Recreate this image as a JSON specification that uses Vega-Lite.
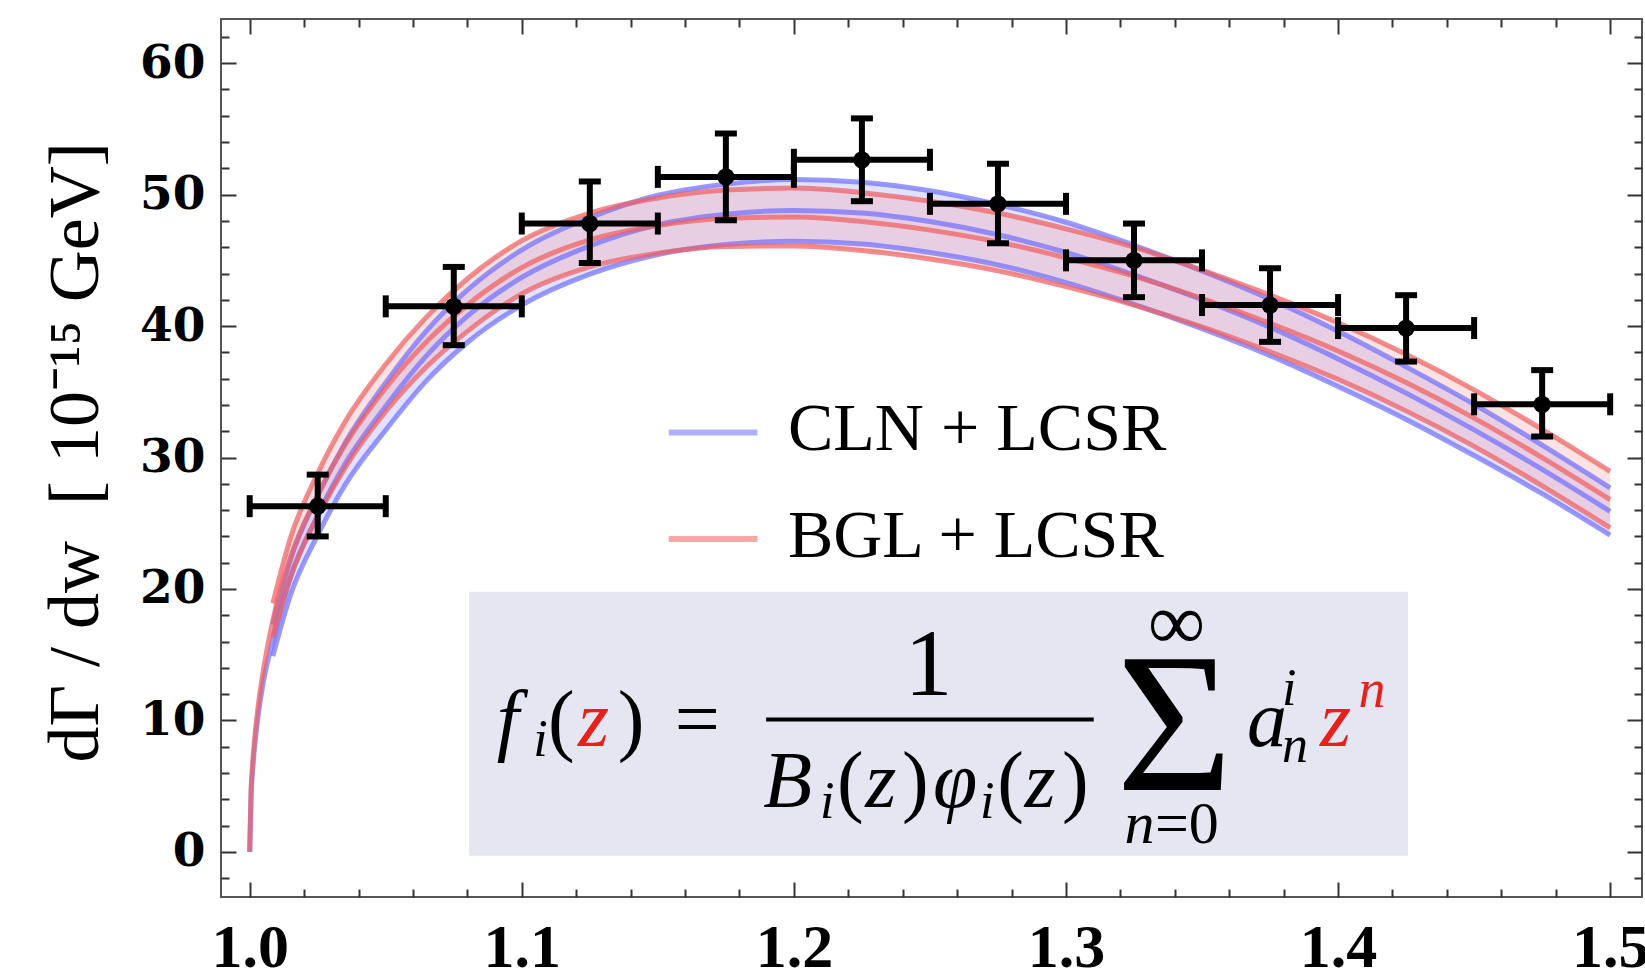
{
  "$schema": "https://vega.github.io/schema/vega-lite/v6.json",
  "width": 1421,
  "height": 878,
  "autosize": {"type": "none"},
  "padding": {"left": 221, "top": 19, "right": 3, "bottom": 81},
  "background": "white",
  "view": {"stroke": "#555555", "strokeWidth": 2},
  "config": {"axis": {"grid": false, "domain": false}},
  "resolve": {"axis": {"x": "independent", "y": "independent"}},
  "datasets": {
    "box": [{"w1": 1.0806, "w2": 1.4257, "v1": -0.3, "v2": 19.8}],
    "curves": [
      {"model": "CLN", "w": 1.0, "mid": 0},
      {"model": "CLN", "w": 1.0005, "mid": 4.3},
      {"model": "CLN", "w": 1.001, "mid": 6.0},
      {"model": "CLN", "w": 1.002, "mid": 8.4},
      {"model": "CLN", "w": 1.003, "mid": 10.2},
      {"model": "CLN", "w": 1.005, "mid": 12.9},
      {"model": "CLN", "w": 1.0085, "lo": 14.9, "mid": 16.1, "hi": 17.3},
      {"model": "CLN", "w": 1.015, "lo": 19.55, "mid": 20.9, "hi": 22.25},
      {"model": "CLN", "w": 1.025, "lo": 24.1, "mid": 25.6, "hi": 27.1},
      {"model": "CLN", "w": 1.035, "lo": 27.9, "mid": 29.5, "hi": 31.1},
      {"model": "CLN", "w": 1.05, "lo": 32.1, "mid": 33.9, "hi": 35.7},
      {"model": "CLN", "w": 1.065, "lo": 35.85, "mid": 37.75, "hi": 39.65},
      {"model": "CLN", "w": 1.08, "lo": 38.75, "mid": 40.75, "hi": 42.75},
      {"model": "CLN", "w": 1.1, "lo": 41.6, "mid": 43.7, "hi": 45.8},
      {"model": "CLN", "w": 1.125, "lo": 43.95, "mid": 46.1, "hi": 48.25},
      {"model": "CLN", "w": 1.15, "lo": 45.45, "mid": 47.7, "hi": 49.95},
      {"model": "CLN", "w": 1.175, "lo": 46.2, "mid": 48.5, "hi": 50.8},
      {"model": "CLN", "w": 1.2, "lo": 46.45, "mid": 48.8, "hi": 51.15},
      {"model": "CLN", "w": 1.225, "lo": 46.25, "mid": 48.6, "hi": 50.95},
      {"model": "CLN", "w": 1.25, "lo": 45.6, "mid": 47.95, "hi": 50.3},
      {"model": "CLN", "w": 1.275, "lo": 44.65, "mid": 46.95, "hi": 49.25},
      {"model": "CLN", "w": 1.3, "lo": 43.3, "mid": 45.6, "hi": 47.9},
      {"model": "CLN", "w": 1.325, "lo": 41.65, "mid": 43.9, "hi": 46.15},
      {"model": "CLN", "w": 1.35, "lo": 39.8, "mid": 42.0, "hi": 44.2},
      {"model": "CLN", "w": 1.375, "lo": 37.75, "mid": 39.9, "hi": 42.05},
      {"model": "CLN", "w": 1.4, "lo": 35.4, "mid": 37.5, "hi": 39.6},
      {"model": "CLN", "w": 1.425, "lo": 32.9, "mid": 34.9, "hi": 36.9},
      {"model": "CLN", "w": 1.45, "lo": 30.15, "mid": 32.1, "hi": 34.05},
      {"model": "CLN", "w": 1.475, "lo": 27.25, "mid": 29.1, "hi": 30.95},
      {"model": "CLN", "w": 1.5, "lo": 24.1, "mid": 25.9, "hi": 27.7},
      {"model": "BGL", "w": 1.0, "mid": 0},
      {"model": "BGL", "w": 1.0005, "mid": 4.7},
      {"model": "BGL", "w": 1.001, "mid": 6.5},
      {"model": "BGL", "w": 1.002, "mid": 9.0},
      {"model": "BGL", "w": 1.003, "mid": 10.9},
      {"model": "BGL", "w": 1.005, "mid": 13.8},
      {"model": "BGL", "w": 1.0085, "lo": 16.3, "mid": 17.6, "hi": 18.9},
      {"model": "BGL", "w": 1.015, "lo": 20.9, "mid": 22.4, "hi": 23.9},
      {"model": "BGL", "w": 1.025, "lo": 25.5, "mid": 27.15, "hi": 28.8},
      {"model": "BGL", "w": 1.035, "lo": 29.2, "mid": 30.95, "hi": 32.7},
      {"model": "BGL", "w": 1.05, "lo": 33.5, "mid": 35.3, "hi": 37.1},
      {"model": "BGL", "w": 1.065, "lo": 36.9, "mid": 38.8, "hi": 40.7},
      {"model": "BGL", "w": 1.08, "lo": 39.6, "mid": 41.6, "hi": 43.6},
      {"model": "BGL", "w": 1.1, "lo": 42.45, "mid": 44.45, "hi": 46.5},
      {"model": "BGL", "w": 1.125, "lo": 44.5, "mid": 46.55, "hi": 48.6},
      {"model": "BGL", "w": 1.15, "lo": 45.55, "mid": 47.65, "hi": 49.75},
      {"model": "BGL", "w": 1.175, "lo": 46.05, "mid": 48.2, "hi": 50.35},
      {"model": "BGL", "w": 1.2, "lo": 46.1, "mid": 48.3, "hi": 50.5},
      {"model": "BGL", "w": 1.225, "lo": 45.75, "mid": 47.95, "hi": 50.15},
      {"model": "BGL", "w": 1.25, "lo": 45.1, "mid": 47.3, "hi": 49.5},
      {"model": "BGL", "w": 1.275, "lo": 44.2, "mid": 46.4, "hi": 48.6},
      {"model": "BGL", "w": 1.3, "lo": 43.0, "mid": 45.2, "hi": 47.4},
      {"model": "BGL", "w": 1.325, "lo": 41.6, "mid": 43.8, "hi": 46.0},
      {"model": "BGL", "w": 1.35, "lo": 39.95, "mid": 42.1, "hi": 44.25},
      {"model": "BGL", "w": 1.375, "lo": 38.05, "mid": 40.2, "hi": 42.35},
      {"model": "BGL", "w": 1.4, "lo": 35.95, "mid": 38.1, "hi": 40.25},
      {"model": "BGL", "w": 1.425, "lo": 33.55, "mid": 35.7, "hi": 37.85},
      {"model": "BGL", "w": 1.45, "lo": 30.85, "mid": 33.0, "hi": 35.15},
      {"model": "BGL", "w": 1.475, "lo": 27.85, "mid": 30.0, "hi": 32.15},
      {"model": "BGL", "w": 1.5, "lo": 24.65, "mid": 26.8, "hi": 28.95}
    ],
    "pts": [
      {"w": 1.025, "wlo": 1.0, "whi": 1.05, "v": 26.3, "vlo": 24.0, "vhi": 28.7},
      {"w": 1.075, "wlo": 1.05, "whi": 1.1, "v": 41.5, "vlo": 38.55, "vhi": 44.5},
      {"w": 1.125, "wlo": 1.1, "whi": 1.15, "v": 47.8, "vlo": 44.8, "vhi": 51.0},
      {"w": 1.175, "wlo": 1.15, "whi": 1.2, "v": 51.35, "vlo": 48.05, "vhi": 54.65},
      {"w": 1.225, "wlo": 1.2, "whi": 1.25, "v": 52.65, "vlo": 49.5, "vhi": 55.8},
      {"w": 1.275, "wlo": 1.25, "whi": 1.3, "v": 49.3, "vlo": 46.3, "vhi": 52.35},
      {"w": 1.325, "wlo": 1.3, "whi": 1.35, "v": 45.0, "vlo": 42.2, "vhi": 47.8},
      {"w": 1.375, "wlo": 1.35, "whi": 1.4, "v": 41.6, "vlo": 38.8, "vhi": 44.4},
      {"w": 1.425, "wlo": 1.4, "whi": 1.45, "v": 39.85, "vlo": 37.3, "vhi": 42.35},
      {"w": 1.475, "wlo": 1.45, "whi": 1.5, "v": 34.05, "vlo": 31.6, "vhi": 36.65}
    ],
    "legendLines": [
      {"model": "CLN", "w1": 1.154, "w2": 1.1866, "v": 31.9},
      {"model": "BGL", "w1": 1.154, "w2": 1.1866, "v": 23.8}
    ],
    "legendText": [
      {"t": "CLN + LCSR", "w": 1.1978, "v": 30.57},
      {"t": "BGL + LCSR", "w": 1.1978, "v": 22.46}
    ],
    "fracBar": [{"w1": 1.1898, "w2": 1.3102, "v": 10.08}],
    "formula": [
      {"part": "itMain", "t": "f", "w": 1.0908, "v": 8.06},
      {"part": "itMain", "t": "B", "w": 1.1887, "v": 3.44},
      {"part": "itMain", "t": "z", "w": 1.2262, "v": 3.44},
      {"part": "itMain", "t": "φ", "w": 1.2511, "v": 3.44},
      {"part": "itMain", "t": "z", "w": 1.2848, "v": 3.44},
      {"part": "itMain", "t": "a", "w": 1.3665, "v": 8.06},
      {"part": "itRed", "t": "z", "w": 1.1207, "v": 8.06},
      {"part": "itRed", "t": "z", "w": 1.3934, "v": 8.06},
      {"part": "itSub", "t": "i", "w": 1.1042, "v": 7.3},
      {"part": "itSub", "t": "i", "w": 1.2096, "v": 2.6},
      {"part": "itSub", "t": "i", "w": 1.2684, "v": 2.6},
      {"part": "itSub", "t": "i", "w": 1.3794, "v": 11.2},
      {"part": "itSub", "t": "n", "w": 1.3794, "v": 6.86},
      {"part": "itLim", "t": "n", "w": 1.3215, "v": 0.65},
      {"part": "itSubRed", "t": "n", "w": 1.4075, "v": 11.05},
      {"part": "upMain", "t": "(", "w": 1.1096, "v": 8.06},
      {"part": "upMain", "t": ")", "w": 1.1353, "v": 8.06},
      {"part": "upMain", "t": "=", "w": 1.1562, "v": 8.06},
      {"part": "upMain", "t": "(", "w": 1.2158, "v": 3.44},
      {"part": "upMain", "t": ")", "w": 1.2397, "v": 3.44},
      {"part": "upMain", "t": "(", "w": 1.2747, "v": 3.44},
      {"part": "upMain", "t": ")", "w": 1.2985, "v": 3.44},
      {"part": "num", "t": "1", "w": 1.2495, "v": 11.9},
      {"part": "sigma", "t": "Σ", "w": 1.3399, "v": 4.71},
      {"part": "inf", "t": "∞", "w": 1.3406, "v": 15.4},
      {"part": "limUp", "t": "=0", "w": 1.3327, "v": 0.65}
    ]
  },
  "layer": [
    {
      "data": {"name": "box"},
      "mark": {"type": "rect", "color": "#e6e6f2"},
      "encoding": {
        "x": {"field": "w1", "type": "quantitative", "scale": {"domain": [0.98945, 1.5117], "nice": false, "zero": false},
          "axis": {"orient": "bottom", "values": [1.0, 1.1, 1.2, 1.3, 1.4, 1.5], "format": ".1f", "title": null, "tickSize": -15, "tickWidth": 2, "tickColor": "#333333", "labels": true, "labelFont": "Liberation Serif", "labelFontWeight": "bold", "labelFontSize": 62, "labelColor": "#000000", "labelPadding": 84, "labelBaseline": "alphabetic", "labelFlush": false, "labelOverlap": false}},
        "x2": {"field": "w2"},
        "y": {"field": "v1", "type": "quantitative", "scale": {"domain": [-3.43, 63.36], "nice": false, "zero": false},
          "axis": {"orient": "left", "values": [0, 10, 20, 30, 40, 50, 60], "format": "d", "tickSize": -15, "tickWidth": 2, "tickColor": "#333333", "labelFont": "DejaVu Serif", "labelFontWeight": "bold", "labelFontSize": 47, "labelColor": "#000000", "labelPadding": 31, "labelFlush": false, "labelOverlap": false,
            "title": "dΓ / dw\u00a0\u00a0[ 10⁻¹⁵ GeV]", "titleFont": "Liberation Serif", "titleFontSize": 72, "titleFontWeight": "normal", "titleColor": "#000000", "titleAngle": -90, "titleX": -124, "titleY": 433, "titleBaseline": "alphabetic", "titleAlign": "center"}},
        "y2": {"field": "v2"}
      }
    },
    {
      "data": {"name": "curves"},
      "transform": [{"filter": "datum.model == 'CLN' && isValid(datum.lo)"}],
      "mark": {"type": "area", "color": "#a0a0ff", "opacity": 0.3, "interpolate": "monotone"},
      "encoding": {
        "x": {"field": "w", "type": "quantitative", "scale": {"domain": [0.98945, 1.5117], "nice": false, "zero": false},
          "axis": {"orient": "bottom", "values": [1.02, 1.04, 1.06, 1.08, 1.12, 1.14, 1.16, 1.18, 1.22, 1.24, 1.26, 1.28, 1.32, 1.34, 1.36, 1.38, 1.42, 1.44, 1.46, 1.48], "labels": false, "title": null, "tickSize": -8, "tickWidth": 2, "tickColor": "#333333"}},
        "y": {"field": "lo", "type": "quantitative", "scale": {"domain": [-3.43, 63.36], "nice": false, "zero": false},
          "axis": {"orient": "left", "values": [-2, 2, 4, 6, 8, 12, 14, 16, 18, 22, 24, 26, 28, 32, 34, 36, 38, 42, 44, 46, 48, 52, 54, 56, 58, 62], "labels": false, "title": null, "tickSize": -8, "tickWidth": 2, "tickColor": "#333333"}},
        "y2": {"field": "hi"}
      }
    },
    {
      "data": {"name": "curves"},
      "transform": [{"filter": "datum.model == 'BGL' && isValid(datum.lo)"}],
      "mark": {"type": "area", "color": "#f4a0a0", "opacity": 0.3, "interpolate": "monotone"},
      "encoding": {
        "x": {"field": "w", "type": "quantitative", "scale": {"domain": [0.98945, 1.5117], "nice": false, "zero": false},
          "axis": {"orient": "top", "values": [1.0, 1.1, 1.2, 1.3, 1.4, 1.5], "labels": false, "title": null, "tickSize": -15, "tickWidth": 2, "tickColor": "#333333"}},
        "y": {"field": "lo", "type": "quantitative", "scale": {"domain": [-3.43, 63.36], "nice": false, "zero": false},
          "axis": {"orient": "right", "values": [0, 10, 20, 30, 40, 50, 60], "labels": false, "title": null, "tickSize": -15, "tickWidth": 2, "tickColor": "#333333"}},
        "y2": {"field": "hi"}
      }
    },
    {
      "data": {"name": "curves"},
      "transform": [
        {"fold": ["lo", "mid", "hi"], "as": ["edge", "val"]},
        {"filter": "isValid(datum.val)"}
      ],
      "mark": {"type": "line", "strokeWidth": 5, "opacity": 0.72, "interpolate": "monotone"},
      "encoding": {
        "x": {"field": "w", "type": "quantitative", "scale": {"domain": [0.98945, 1.5117], "nice": false, "zero": false},
          "axis": {"orient": "top", "values": [1.02, 1.04, 1.06, 1.08, 1.12, 1.14, 1.16, 1.18, 1.22, 1.24, 1.26, 1.28, 1.32, 1.34, 1.36, 1.38, 1.42, 1.44, 1.46, 1.48], "labels": false, "title": null, "tickSize": -8, "tickWidth": 2, "tickColor": "#333333"}},
        "y": {"field": "val", "type": "quantitative", "scale": {"domain": [-3.43, 63.36], "nice": false, "zero": false},
          "axis": {"orient": "right", "values": [-2, 2, 4, 6, 8, 12, 14, 16, 18, 22, 24, 26, 28, 32, 34, 36, 38, 42, 44, 46, 48, 52, 54, 56, 58, 62], "labels": false, "title": null, "tickSize": -8, "tickWidth": 2, "tickColor": "#333333"}},
        "color": {"field": "model", "type": "nominal", "scale": {"domain": ["CLN", "BGL"], "range": ["#7070ff", "#ee6060"]}, "legend": null},
        "detail": {"field": "edge"}
      }
    },
    {
      "data": {"name": "pts"},
      "mark": {"type": "rule", "color": "black", "strokeWidth": 6},
      "encoding": {
        "x": {"field": "wlo", "type": "quantitative", "axis": null},
        "x2": {"field": "whi"},
        "y": {"field": "v", "type": "quantitative", "axis": null}
      }
    },
    {
      "data": {"name": "pts"},
      "mark": {"type": "rule", "color": "black", "strokeWidth": 6},
      "encoding": {
        "x": {"field": "w", "type": "quantitative", "axis": null},
        "y": {"field": "vlo", "type": "quantitative", "axis": null},
        "y2": {"field": "vhi"}
      }
    },
    {
      "data": {"name": "pts"},
      "transform": [{"fold": ["wlo", "whi"], "as": ["end", "we"]}],
      "mark": {"type": "tick", "orient": "vertical", "color": "black", "opacity": 1, "size": 22, "thickness": 6},
      "encoding": {
        "x": {"field": "we", "type": "quantitative", "axis": null},
        "y": {"field": "v", "type": "quantitative", "axis": null}
      }
    },
    {
      "data": {"name": "pts"},
      "transform": [{"fold": ["vlo", "vhi"], "as": ["end", "ve"]}],
      "mark": {"type": "tick", "orient": "horizontal", "color": "black", "opacity": 1, "size": 22, "thickness": 6},
      "encoding": {
        "x": {"field": "w", "type": "quantitative", "axis": null},
        "y": {"field": "ve", "type": "quantitative", "axis": null}
      }
    },
    {
      "data": {"name": "pts"},
      "mark": {"type": "circle", "color": "black", "opacity": 1, "size": 300},
      "encoding": {
        "x": {"field": "w", "type": "quantitative", "axis": null},
        "y": {"field": "v", "type": "quantitative", "axis": null}
      }
    },
    {
      "data": {"name": "legendLines"},
      "mark": {"type": "rule", "strokeWidth": 6, "opacity": 0.55},
      "encoding": {
        "x": {"field": "w1", "type": "quantitative", "axis": null},
        "x2": {"field": "w2"},
        "y": {"field": "v", "type": "quantitative", "axis": null},
        "color": {"field": "model", "type": "nominal", "legend": null}
      }
    },
    {
      "data": {"name": "legendText"},
      "mark": {"type": "text", "font": "Liberation Serif", "fontSize": 68, "align": "left", "baseline": "alphabetic", "color": "black"},
      "encoding": {
        "x": {"field": "w", "type": "quantitative", "axis": null},
        "y": {"field": "v", "type": "quantitative", "axis": null},
        "text": {"field": "t"}
      }
    },
    {
      "data": {"name": "fracBar"},
      "mark": {"type": "rule", "color": "black", "strokeWidth": 4},
      "encoding": {
        "x": {"field": "w1", "type": "quantitative", "axis": null},
        "x2": {"field": "w2"},
        "y": {"field": "v", "type": "quantitative", "axis": null}
      }
    },
    {
      "data": {"name": "formula"},
      "transform": [{"filter": "datum.part == 'itMain'"}],
      "mark": {"type": "text", "font": "Liberation Serif", "fontStyle": "italic", "fontSize": 80, "align": "left", "baseline": "alphabetic", "color": "black"},
      "encoding": {"x": {"field": "w", "type": "quantitative", "axis": null}, "y": {"field": "v", "type": "quantitative", "axis": null}, "text": {"field": "t"}}
    },
    {
      "data": {"name": "formula"},
      "transform": [{"filter": "datum.part == 'itRed'"}],
      "mark": {"type": "text", "font": "Liberation Serif", "fontStyle": "italic", "fontSize": 80, "align": "left", "baseline": "alphabetic", "color": "#e8201c"},
      "encoding": {"x": {"field": "w", "type": "quantitative", "axis": null}, "y": {"field": "v", "type": "quantitative", "axis": null}, "text": {"field": "t"}}
    },
    {
      "data": {"name": "formula"},
      "transform": [{"filter": "datum.part == 'itSub'"}],
      "mark": {"type": "text", "font": "Liberation Serif", "fontStyle": "italic", "fontSize": 52, "align": "left", "baseline": "alphabetic", "color": "black"},
      "encoding": {"x": {"field": "w", "type": "quantitative", "axis": null}, "y": {"field": "v", "type": "quantitative", "axis": null}, "text": {"field": "t"}}
    },
    {
      "data": {"name": "formula"},
      "transform": [{"filter": "datum.part == 'itLim'"}],
      "mark": {"type": "text", "font": "Liberation Serif", "fontStyle": "italic", "fontSize": 60, "align": "left", "baseline": "alphabetic", "color": "black"},
      "encoding": {"x": {"field": "w", "type": "quantitative", "axis": null}, "y": {"field": "v", "type": "quantitative", "axis": null}, "text": {"field": "t"}}
    },
    {
      "data": {"name": "formula"},
      "transform": [{"filter": "datum.part == 'itSubRed'"}],
      "mark": {"type": "text", "font": "Liberation Serif", "fontStyle": "italic", "fontSize": 54, "align": "left", "baseline": "alphabetic", "color": "#e8201c"},
      "encoding": {"x": {"field": "w", "type": "quantitative", "axis": null}, "y": {"field": "v", "type": "quantitative", "axis": null}, "text": {"field": "t"}}
    },
    {
      "data": {"name": "formula"},
      "transform": [{"filter": "datum.part == 'upMain'"}],
      "mark": {"type": "text", "font": "Liberation Serif", "fontSize": 80, "align": "left", "baseline": "alphabetic", "color": "black"},
      "encoding": {"x": {"field": "w", "type": "quantitative", "axis": null}, "y": {"field": "v", "type": "quantitative", "axis": null}, "text": {"field": "t"}}
    },
    {
      "data": {"name": "formula"},
      "transform": [{"filter": "datum.part == 'num'"}],
      "mark": {"type": "text", "font": "Liberation Serif", "fontSize": 96, "align": "center", "baseline": "alphabetic", "color": "black"},
      "encoding": {"x": {"field": "w", "type": "quantitative", "axis": null}, "y": {"field": "v", "type": "quantitative", "axis": null}, "text": {"field": "t"}}
    },
    {
      "data": {"name": "formula"},
      "transform": [{"filter": "datum.part == 'sigma'"}],
      "mark": {"type": "text", "font": "Liberation Serif", "fontSize": 200, "align": "center", "baseline": "alphabetic", "color": "black"},
      "encoding": {"x": {"field": "w", "type": "quantitative", "axis": null}, "y": {"field": "v", "type": "quantitative", "axis": null}, "text": {"field": "t"}}
    },
    {
      "data": {"name": "formula"},
      "transform": [{"filter": "datum.part == 'inf'"}],
      "mark": {"type": "text", "font": "Liberation Serif", "fontSize": 80, "align": "center", "baseline": "alphabetic", "color": "black"},
      "encoding": {"x": {"field": "w", "type": "quantitative", "axis": null}, "y": {"field": "v", "type": "quantitative", "axis": null}, "text": {"field": "t"}}
    },
    {
      "data": {"name": "formula"},
      "transform": [{"filter": "datum.part == 'limUp'"}],
      "mark": {"type": "text", "font": "Liberation Serif", "fontSize": 60, "align": "left", "baseline": "alphabetic", "color": "black"},
      "encoding": {"x": {"field": "w", "type": "quantitative", "axis": null}, "y": {"field": "v", "type": "quantitative", "axis": null}, "text": {"field": "t"}}
    }
  ]
}
